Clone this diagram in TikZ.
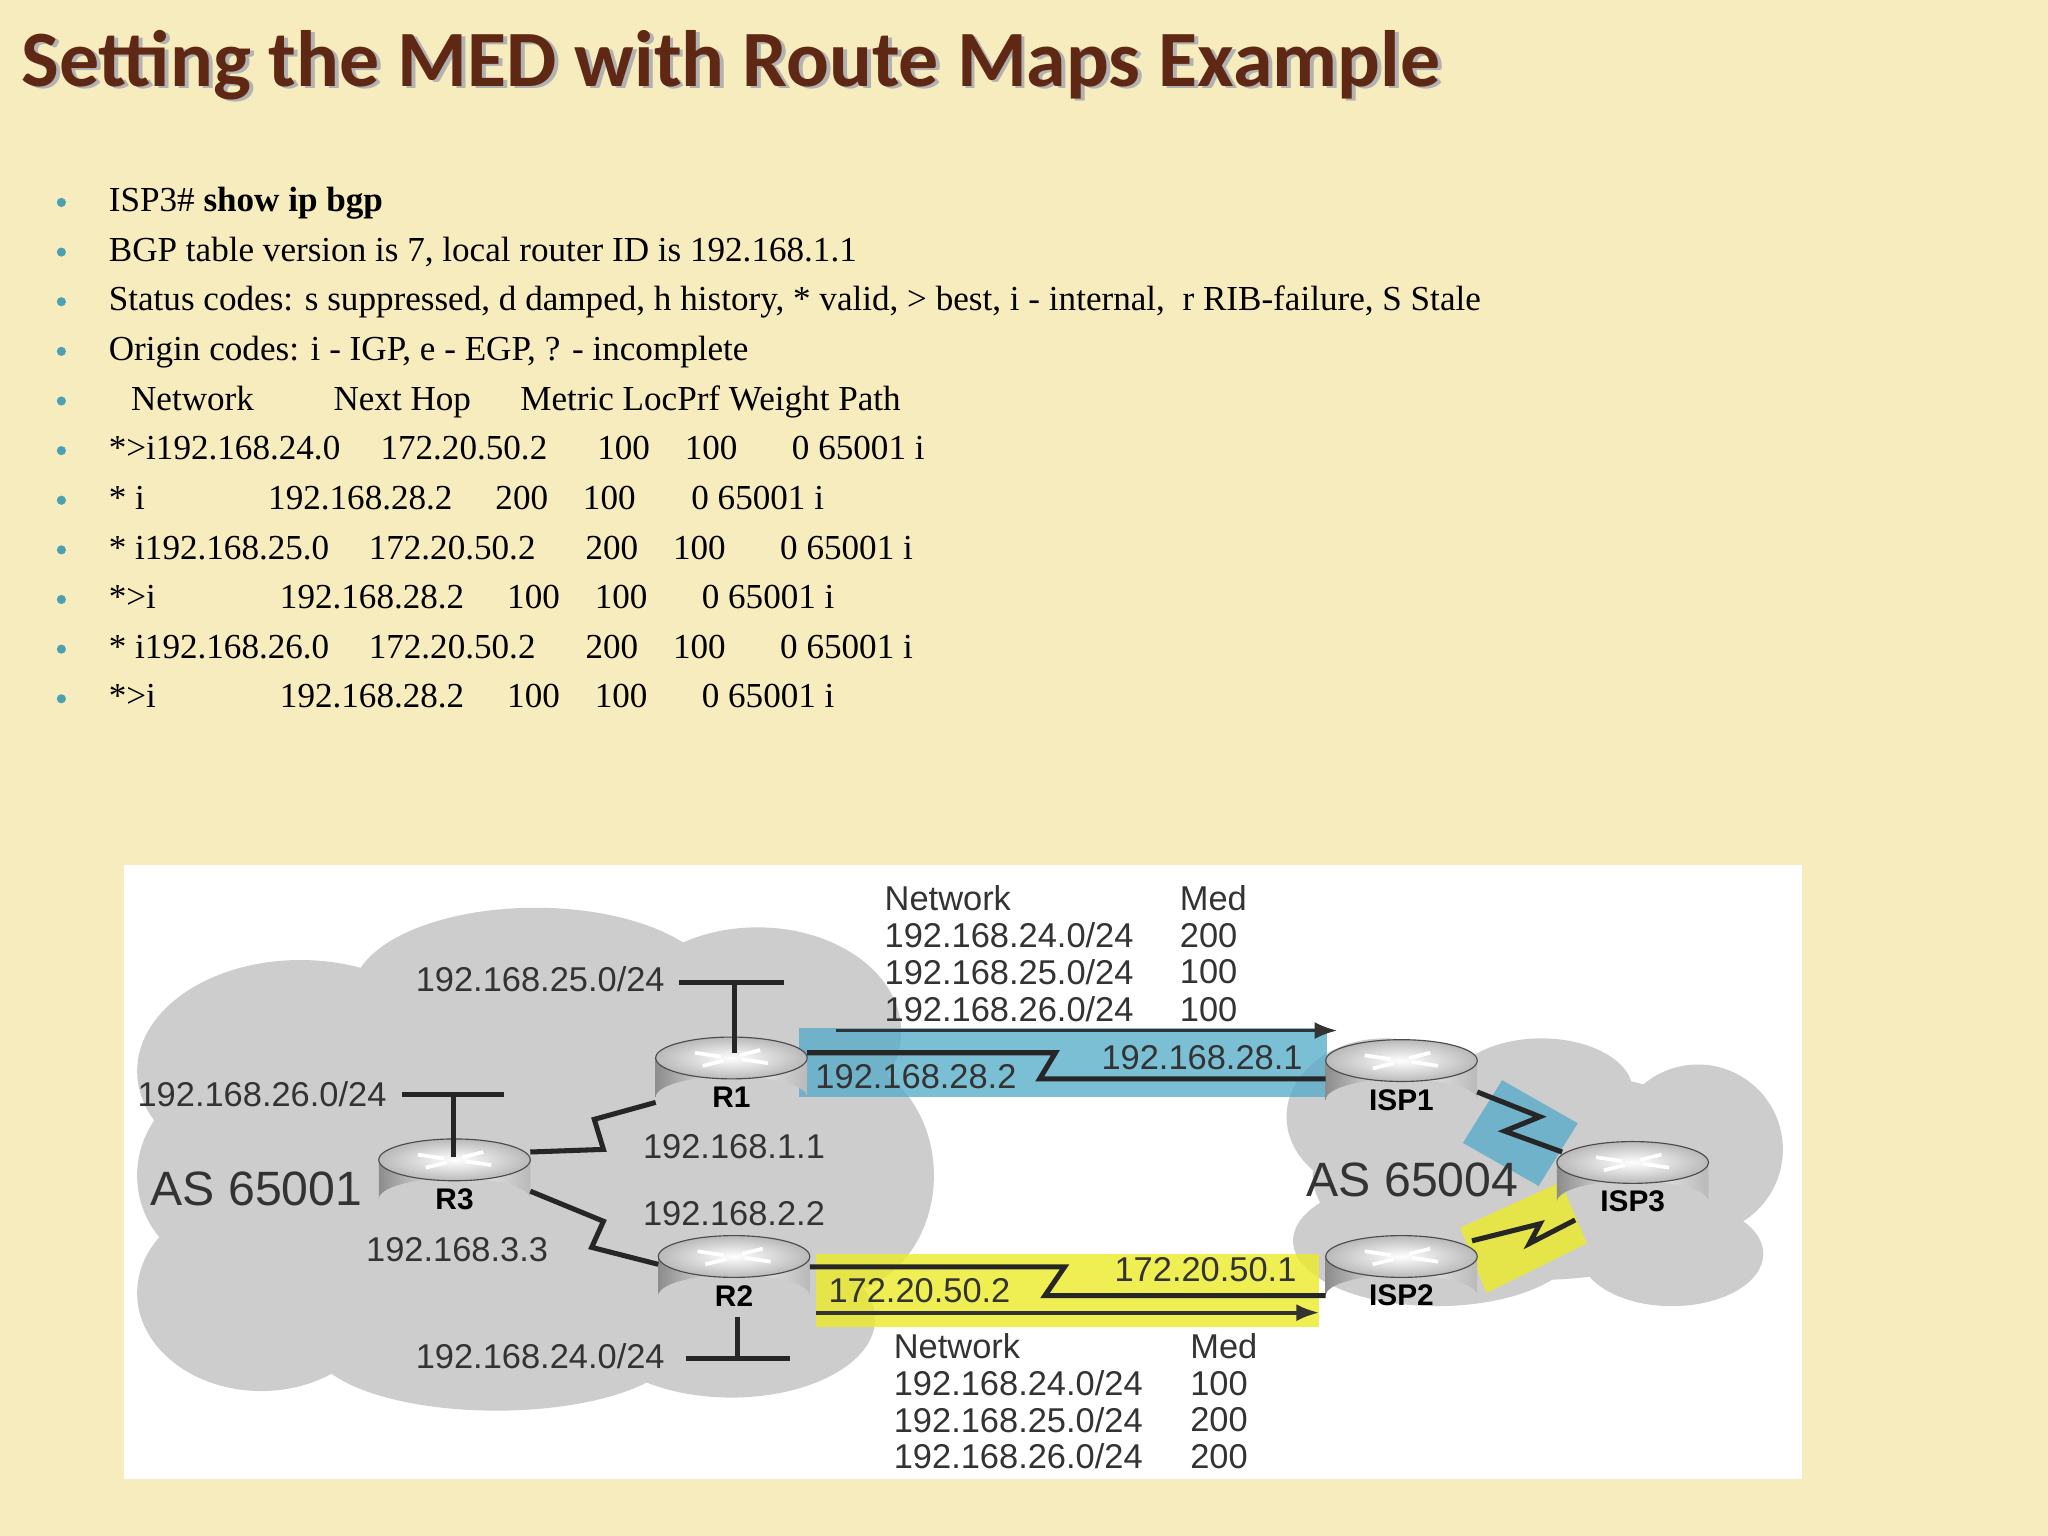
\documentclass[tikz,border=0pt]{standalone}
\usepackage{fontspec}
\setmainfont{Liberation Serif}
\newfontfamily\titlefont{Carlito}
\newfontfamily\arialf{Liberation Sans}
\usetikzlibrary{calc,arrows.meta}
\definecolor{bgc}{RGB}{246,236,190}
\definecolor{titc}{RGB}{95,40,20}
\definecolor{bulc}{RGB}{75,160,180}
\definecolor{cloudc}{RGB}{205,205,205}
\definecolor{bluehl}{RGB}{80,170,200}
\definecolor{yelhl}{RGB}{235,235,40}
\tikzset{
 bt/.style={anchor=base west,inner sep=0pt,font=\fontsize{15.3}{17}\selectfont},
 dt/.style={anchor=west,inner sep=0pt,font=\arialf\fontsize{15}{17}\selectfont,text=black!80},
 lnk/.style={line width=2.2pt,black!85,line join=miter},
 rlab/.style={font=\arialf\bfseries\fontsize{13}{15}\selectfont},
}
\newcommand{\myrouter}[4]{% x y label name
 \coordinate (#4) at (#1,#2);
 \shade[left color=gray!90,right color=gray!55,middle color=white!95!gray] (#1-58,#2-12) -- (#1-58,#2+18) arc[start angle=180,end angle=360,x radius=58,y radius=16] -- (#1+58,#2-12) -- cycle;
 \shade[inner color=white,outer color=gray!55] (#1,#2-12) ellipse[x radius=58,y radius=16];
 \draw[gray!60!black,line width=0.5pt] (#1,#2-12) ellipse[x radius=58,y radius=16];
 \draw[white,line width=1.6pt] (#1-28,#2-16)--(#1-8,#2-13) (#1+8,#2-11)--(#1+28,#2-8) (#1-22,#2-6)--(#1-6,#2-10) (#1+6,#2-14)--(#1+22,#2-18);
 \node[rlab] (#4l) at (#1,#2+18) {#3};
}
\begin{document}
\begin{tikzpicture}[x=0.02cm,y=-0.02cm]
\fill[bgc] (0,0) rectangle (1568,1176);
\useasboundingbox (0,0) rectangle (1568,1176);
% title
\node[anchor=base west,inner sep=0pt,text=black!30,font=\titlefont\bfseries\fontsize{34.8}{38}\selectfont] at (19,68) {Setting the MED with Route Maps Example};
\node[anchor=base west,inner sep=0pt,text=titc,font=\titlefont\bfseries\fontsize{34.8}{38}\selectfont] (title) at (16,66) {Setting the MED with Route Maps Example};
% bullets
\foreach \y in {155,193,231,269,307,345,383,421,459,497,535}{\fill[bulc] (47,\y) circle (3.5);}
\node[bt] (l1) at (83,162) {ISP3\# \textbf{show ip bgp}};
\node[bt] (l2) at (83,200) {BGP table version is 7, local router ID is 192.168.1.1};
\node[bt] (l3) at (83,238) {Status codes: s suppressed, d damped, h history, * valid, > best, i - internal,\ \ r RIB-failure, S Stale};
\node[bt] (l4) at (83,276) {Origin codes: i - IGP, e - EGP, ? - incomplete};
\node[bt] at (100,314) {Network};\node[bt] at (255,314) {Next Hop};\node[bt] at (398,314) {Metric LocPrf Weight Path};
\node[bt] at (83,352) {*>i192.168.24.0};\node[bt] at (291,352) {172.20.50.2};\node[bt] at (457,352) {100};\node[bt] at (524,352) {100};\node[bt] at (606,352) {0 65001 i};
\node[bt] at (83,390) {* i};\node[bt] at (205,390) {192.168.28.2};\node[bt] at (379,390) {200};\node[bt] at (446,390) {100};\node[bt] at (529,390) {0 65001 i};
\node[bt] at (83,428) {* i192.168.25.0};\node[bt] at (282,428) {172.20.50.2};\node[bt] at (448,428) {200};\node[bt] at (515,428) {100};\node[bt] at (597,428) {0 65001 i};
\node[bt] at (83,466) {*>i};\node[bt] at (214,466) {192.168.28.2};\node[bt] at (388,466) {100};\node[bt] at (455,466) {100};\node[bt] at (537,466) {0 65001 i};
\node[bt] at (83,504) {* i192.168.26.0};\node[bt] at (282,504) {172.20.50.2};\node[bt] at (448,504) {200};\node[bt] at (515,504) {100};\node[bt] at (597,504) {0 65001 i};
\node[bt] at (83,542) {*>i};\node[bt] at (214,542) {192.168.28.2};\node[bt] at (388,542) {100};\node[bt] at (455,542) {100};\node[bt] at (537,542) {0 65001 i};
% diagram panel
\fill[white] (95,662) rectangle (1380,1132);
% left cloud
\begin{scope}[cloudc]
\fill (230,820) ellipse[x radius=125,y radius=85];
\fill (410,760) ellipse[x radius=140,y radius=65];
\fill (580,790) ellipse[x radius=110,y radius=80];
\fill (640,900) ellipse[x radius=75,y radius=90];
\fill (560,1010) ellipse[x radius=110,y radius=60];
\fill (380,1030) ellipse[x radius=140,y radius=50];
\fill (200,990) ellipse[x radius=95,y radius=75];
\fill (170,900) ellipse[x radius=65,y radius=70];
\fill (400,900) ellipse[x radius=220,y radius=150];
% right cloud
\fill (1060,855) ellipse[x radius=75,y radius=60];
\fill (1180,835) ellipse[x radius=70,y radius=40];
\fill (1300,880) ellipse[x radius=65,y radius=65];
\fill (1280,960) ellipse[x radius=70,y radius=40];
\fill (1100,950) ellipse[x radius=110,y radius=50];
\fill (1175,900) ellipse[x radius=170,y radius=80];
\end{scope}
% highlights
\fill[bluehl,opacity=0.75] (612,787) rectangle (1016,840);
\fill[yelhl,opacity=0.8] (625,960) rectangle (1010,1016);
\fill[bluehl,opacity=0.75] (1150,827) -- (1208,860) -- (1178,908) -- (1120,875) -- cycle;
\fill[yelhl,opacity=0.8] (1118,940) -- (1195,905) -- (1215,952) -- (1138,990) -- cycle;
% routers
\myrouter{560}{822}{R1}{r1}
\myrouter{348}{900}{R3}{r3}
\myrouter{562}{974}{R2}{r2}
\myrouter{1073}{824}{ISP1}{isp1}
\myrouter{1250}{902}{ISP3}{isp3}
\myrouter{1073}{974}{ISP2}{isp2}
% LAN stubs
\coordinate (s1) at (562,752); \draw[lnk] (562,806) -- (s1); \draw[lnk] (520,752) -- (600,752);
\coordinate (s3) at (347,838); \draw[lnk] (347,886) -- (s3); \draw[lnk] (308,838) -- (386,838);
\coordinate (s2) at (565,1040); \draw[lnk] (565,1008) -- (s2); \draw[lnk] (525,1040) -- (605,1040);
% serial links
\draw[lnk] (r1) ++(-58,22) -- (455,857) -- (462,880) -- ($(r3)+(58,-18)$);
\draw[lnk] ($(r3)+(58,12)$) -- (462,935) -- (453,955) -- ($(r2)+(-58,-6)$);
\draw[lnk] ($(r1)+(58,-16)$) -- (808,806) -- (796,826) -- ($(isp1)+(-58,2)$);
\draw[lnk] ($(r2)+(58,-4)$) -- (815,970) -- (800,992) -- ($(isp2)+(-58,18)$);
\draw[lnk] ($(isp1)+(58,12)$) -- (1179,855) -- (1152,866) -- ($(isp3)+(-54,-20)$);
\draw[lnk] ($(isp2)+(54,-24)$) -- (1179,937) -- (1171,952) -- ($(isp3)+(-44,32)$);
% arrows
\coordinate (ar1) at (1024,789); \draw[line width=1.6pt,black!80,-{Latex[length=10pt]}] (640,789) -- (ar1);
\coordinate (ar2) at (1010,1005); \draw[line width=1.6pt,black!80,-{Latex[length=10pt]}] (625,1005) -- (ar2);
% labels
\node[dt] at (677,688) {Network};\node[dt] at (903,688) {Med};
\node[dt] at (677,716) {192.168.24.0/24};\node[dt] at (903,716) {200};
\node[dt] at (677,744) {192.168.25.0/24};\node[dt] at (903,744) {100};
\node[dt] at (677,773) {192.168.26.0/24};\node[dt] at (903,773) {100};
\node[dt] at (318,750) {192.168.25.0/24};
\node[dt] at (105,838) {192.168.26.0/24};
\node[dt,font=\arialf\fontsize{21}{24}\selectfont] at (115,910) {AS 65001};
\node[dt] at (280,957) {192.168.3.3};
\node[dt] at (492,878) {192.168.1.1};
\node[dt] at (492,929) {192.168.2.2};
\node[dt] at (318,1038) {192.168.24.0/24};
\node[dt] at (624,824) {192.168.28.2};
\node[dt] at (843,810) {192.168.28.1};
\node[dt,font=\arialf\fontsize{21}{24}\selectfont] at (1000,903) {AS 65004};
\node[dt] at (634,988) {172.20.50.2};
\node[dt] at (853,972) {172.20.50.1};
\node[dt] at (684,1031) {Network};\node[dt] at (911,1031) {Med};
\node[dt] at (684,1059) {192.168.24.0/24};\node[dt] at (911,1059) {100};
\node[dt] at (684,1087) {192.168.25.0/24};\node[dt] at (911,1087) {200};
\node[dt] at (684,1115) {192.168.26.0/24};\node[dt] at (911,1115) {200};
\end{tikzpicture}
\end{document}
